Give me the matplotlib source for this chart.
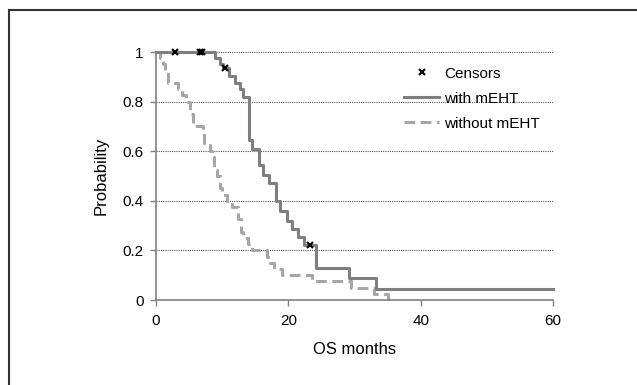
import matplotlib.pyplot as plt
from matplotlib.lines import Line2D

plt.rcParams['font.family'] = ['Liberation Sans', 'DejaVu Sans']

# Kaplan-Meier steps (time in months, survival from that time on)
with_t = [0, 8.9, 9.7, 10.1, 11.0, 12.0, 12.7, 13.2, 14.1, 14.5, 15.6, 16.2, 17.1,
          18.2, 18.8, 19.8, 20.6, 21.4, 22.3, 24.2, 29.2, 33.2, 60]
with_s = [1.0, 0.975, 0.95, 0.935, 0.905, 0.875, 0.85, 0.82, 0.645, 0.61, 0.545, 0.505, 0.47,
          0.40, 0.36, 0.32, 0.285, 0.255, 0.22, 0.13, 0.087, 0.043, 0.043]

without_t = [0, 0.6, 1.0, 1.4, 1.8, 3.3, 4.0, 4.6, 5.2, 5.6, 7.1, 7.3, 8.2, 8.5, 8.8, 9.2,
             9.6, 10.0, 10.8, 11.5, 12.4, 12.8, 13.2, 13.9, 14.5, 16.8, 17.2, 17.8, 19.1,
             23.6, 29.4, 33.0, 35.1]
without_s = [1.0, 0.975, 0.95, 0.925, 0.875, 0.85, 0.825, 0.8, 0.75, 0.70, 0.675, 0.625, 0.6,
             0.575, 0.525, 0.5, 0.45, 0.425, 0.40, 0.375, 0.325, 0.275, 0.25, 0.225, 0.2,
             0.175, 0.15, 0.125, 0.1, 0.075, 0.05, 0.025, 0.0]

censor_t = [2.8, 6.6, 7.0, 10.4, 23.3]
censor_s = [1.0, 1.0, 1.0, 0.935, 0.22]

fig = plt.figure(figsize=(6.37, 3.85), dpi=100)
ax = fig.add_axes([156 / 637, 1 - 300 / 385, 397 / 637, 248 / 385])

for y in [0.2, 0.4, 0.6, 0.8, 1.0]:
    ax.axhline(y, color='#555555', lw=0.8, ls=(0, (1, 1)), zorder=1, clip_on=False)

ax.step(without_t, without_s, where='post', color='#a6a6a6', lw=2.2,
        ls=(0, (3.5, 1.8)), label='without mEHT', zorder=2, clip_on=False)
ax.step(with_t, with_s, where='post', color='#7f7f7f', lw=2.2,
        label='with mEHT', zorder=3, clip_on=False)
ax.plot(censor_t, censor_s, 'x', color='black', ms=5, mew=1.5, label='Censors',
        zorder=4, clip_on=False)

ax.set_xlim(0, 60)
ax.set_ylim(0, 1)
ax.set_xticks([0, 20, 40, 60])
ax.set_yticks([0, 0.2, 0.4, 0.6, 0.8, 1.0])
ax.set_yticklabels(['0', '0.2', '0.4', '0.6', '0.8', '1'])
for s in ['top', 'right']:
    ax.spines[s].set_visible(False)
for s in ['left', 'bottom']:
    ax.spines[s].set_color('#808080')
    ax.spines[s].set_linewidth(1.2)
ax.tick_params(colors='#808080', labelcolor='black', labelsize=11, length=4, width=1)
ax.tick_params(axis='y', pad=5)
ax.tick_params(axis='x', pad=6)
ax.set_xlabel('OS months', fontsize=12, labelpad=10)
ax.set_ylabel('Probability', fontsize=12, labelpad=10)

h, l = ax.get_legend_handles_labels()
order = [2, 1, 0]
ax.legend([h[i] for i in order], [l[i] for i in order], loc='upper left',
          bbox_to_anchor=(0.61, 0.965), frameon=False, fontsize=11,
          handlelength=2.3, handletextpad=0.3, labelspacing=0.72, borderaxespad=0)

# outer frame (top and left edges)
fig.add_artist(Line2D([9 / 637, 9 / 637], [0, 1 - 10 / 385], color='#333333', lw=1.5))
fig.add_artist(Line2D([9 / 637, 1], [1 - 10 / 385, 1 - 10 / 385], color='#333333', lw=1.5))

fig.savefig('out.png', dpi=100)
